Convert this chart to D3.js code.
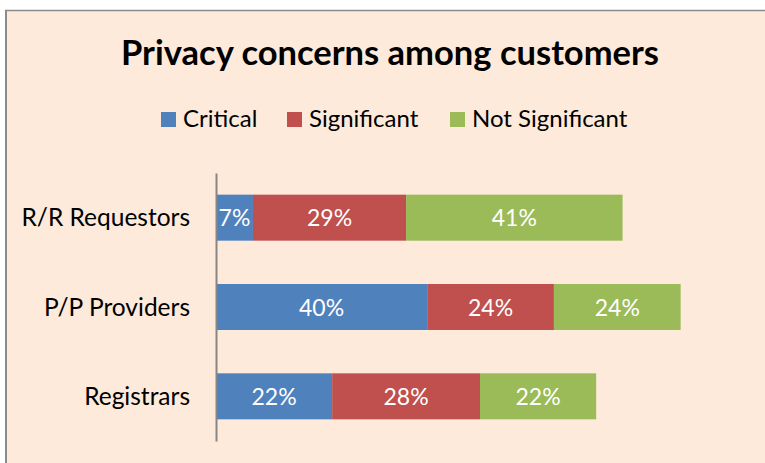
<!DOCTYPE html>
<html>
<head>
<meta charset="utf-8">
<script src="https://cdn.jsdelivr.net/npm/d3@7"></script>
<style>
  html, body { margin: 0; padding: 0; background: #ffffff; }
  svg { display: block; }
  text { font-family: Lato, "Open Sans", "DejaVu Sans", sans-serif; }
</style>
</head>
<body>
<svg id="chart" width="765" height="463"></svg>
<script>
// Survey data: share of respondents per privacy-concern level
const categories = ["R/R Requestors", "P/P Providers", "Registrars"];
const seriesNames = ["Critical", "Significant", "Not Significant"];
const critical = [7, 40, 22];
const significant = [29, 24, 28];
const notSignificant = [41, 24, 22];
const seriesValues = [critical, significant, notSignificant];
const seriesColors = ["#4F81BD", "#C0504D", "#9BBB59"];
const chartTitle = "Privacy concerns among customers";

const svg = d3.select("#chart");
const W = 765, H = 463;

// Chart area with its border (left and top edges visible)
svg.append("rect")
  .attr("x", 6).attr("y", 11)
  .attr("width", W).attr("height", H)
  .attr("fill", "#FDEADA");
svg.append("line")
  .attr("x1", 6).attr("x2", 6).attr("y1", 10).attr("y2", H)
  .attr("stroke", "#8a8a8a").attr("stroke-width", 2);
svg.append("line")
  .attr("x1", 5).attr("x2", W).attr("y1", 10.5).attr("y2", 10.5)
  .attr("stroke", "#8a8a8a").attr("stroke-width", 1.5);

// Title
svg.append("text")
  .attr("x", 390).attr("y", 65)
  .attr("text-anchor", "middle")
  .attr("font-weight", "bold")
  .attr("font-size", 34.5)
  .attr("fill", "#000")
  .text(chartTitle);

// Legend
const legendX = [161, 287, 450];
const legend = svg.append("g");
seriesNames.forEach((name, i) => {
  legend.append("rect")
    .attr("x", legendX[i]).attr("y", 112)
    .attr("width", 15).attr("height", 15)
    .attr("fill", seriesColors[i]);
  legend.append("text")
    .attr("x", legendX[i] + 22).attr("y", 127)
    .attr("font-size", 24)
    .attr("fill", "#000")
    .text(name);
});

// Scales
const x = d3.scaleLinear().domain([0, 100]).range([216, 744]);
const y = d3.scaleBand().domain(categories).range([173, 441])
  .paddingInner(0.485).paddingOuter(0.2425);

// Stacked layout
const rows = categories.map((c, j) => {
  const r = { category: c };
  seriesNames.forEach((s, i) => { r[s] = seriesValues[i][j]; });
  return r;
});
const stacked = d3.stack().keys(seriesNames)(rows);

const layers = svg.append("g").selectAll("g")
  .data(stacked).join("g")
  .attr("fill", (d, i) => seriesColors[i]);

layers.selectAll("rect")
  .data(d => d).join("rect")
  .attr("x", d => x(d[0]))
  .attr("y", d => y(d.data.category))
  .attr("width", d => x(d[1]) - x(d[0]))
  .attr("height", y.bandwidth());

// Value labels
layers.selectAll("text")
  .data(d => d.map(v => ({ v, key: d.key }))).join("text")
  .attr("x", d => (x(d.v[0]) + x(d.v[1])) / 2)
  .attr("y", d => y(d.v.data.category) + y.bandwidth() / 2 + 8.5)
  .attr("text-anchor", "middle")
  .attr("font-size", 23)
  .attr("fill", "#ffffff")
  .text(d => d.v.data[d.key] + "%");

// Category axis
const yAxis = svg.append("g")
  .attr("transform", "translate(216,0)")
  .call(d3.axisLeft(y).tickSize(0).tickPadding(26));
yAxis.select(".domain").attr("stroke", "#868686").attr("stroke-width", 2);
yAxis.selectAll("text")
  .attr("font-size", 24.5)
  .attr("fill", "#000")
  .attr("dy", "0.35em")
  .style("font-family", "Lato, 'Open Sans', sans-serif");
</script>
</body>
</html>
